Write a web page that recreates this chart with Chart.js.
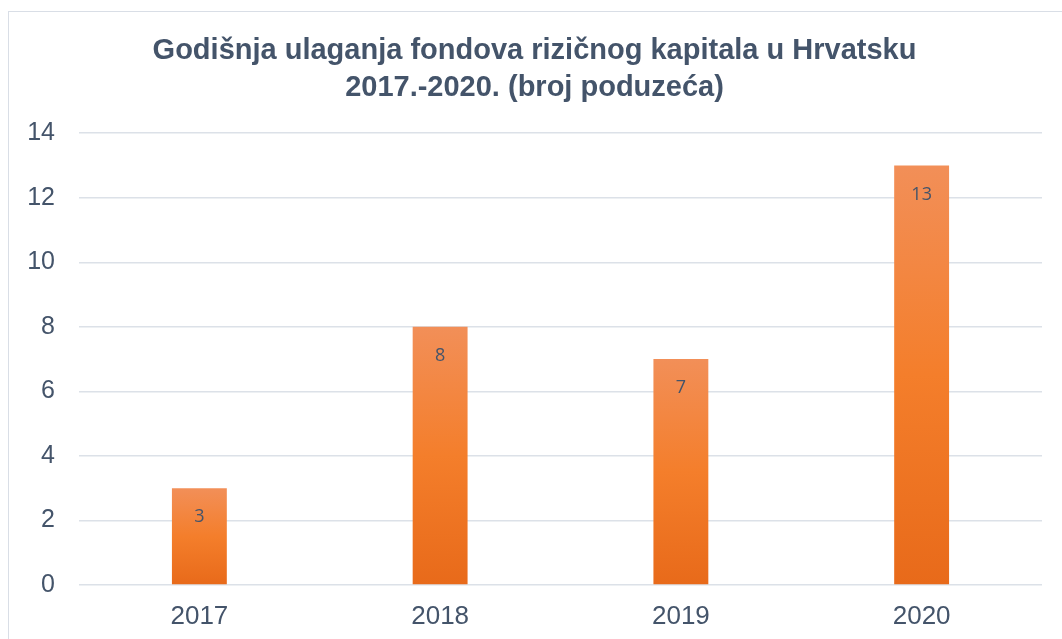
<!DOCTYPE html>
<html>
<head>
<meta charset="utf-8">
<script src="https://cdn.jsdelivr.net/npm/chart.js@4"></script>
<style>
  html, body { margin:0; padding:0; background:#fff; }
  #frame { position:absolute; left:8px; top:11px; width:1100px; height:700px; border:1px solid #D9DEE6; }
  #wrap { position:absolute; left:0; top:0; width:1062px; height:639px; }
</style>
</head>
<body>
<div id="frame"></div>
<div id="wrap"><canvas id="c" width="1062" height="639"></canvas></div>
<script>
const years  = ['2017', '2018', '2019', '2020'];
const counts = [3, 8, 7, 13];
const yTicks = [0, 2, 4, 6, 8, 10, 12, 14];

const textCol = '#44546A';
const fam = '"Liberation Sans", Arial, sans-serif';

// per-bar vertical gradient, light on top, darker at the base
function barFill(ctx) {
  const chart = ctx.chart;
  const y = chart.scales.y;
  if (!y || ctx.dataIndex == null) return '#F47F2A';
  const top = y.getPixelForValue(counts[ctx.dataIndex]);
  const base = y.getPixelForValue(0);
  if (!isFinite(top) || !isFinite(base) || top === base) return '#F47F2A';
  const g = chart.ctx.createLinearGradient(0, top, 0, base);
  g.addColorStop(0, '#F28F58');
  g.addColorStop(0.5, '#F47E2B');
  g.addColorStop(1, '#E86A1A');
  return g;
}

// simple value labels inside the top of each bar
const barLabels = {
  id: 'barLabels',
  afterDatasetsDraw(chart) {
    const c = chart.ctx;
    const meta = chart.getDatasetMeta(0);
    c.save();
    c.font = '18px "Open Sans", "Liberation Sans", sans-serif';
    c.fillStyle = textCol;
    c.textAlign = 'center';
    c.textBaseline = 'middle';
    meta.data.forEach((bar, i) => {
      c.fillText(String(counts[i]), bar.x, bar.y + 29);
    });
    c.restore();
  }
};

new Chart(document.getElementById('c'), {
  type: 'bar',
  data: {
    labels: years,
    datasets: [{
      data: counts,
      backgroundColor: barFill,
      categoryPercentage: 1,
      barPercentage: 0.228
    }]
  },
  options: {
    responsive: false,
    animation: false,
    layout: { padding: { left: 27, right: 20, top: 0, bottom: 8 } },
    plugins: {
      legend: { display: false },
      tooltip: { enabled: false },
      title: {
        display: true,
        text: ['Godišnja ulaganja fondova rizičnog kapitala u Hrvatsku', '2017.-2020. (broj poduzeća)'],
        color: textCol,
        font: { family: fam, size: 29, weight: 'bold', lineHeight: 1.28 },
        padding: { top: 32, bottom: 27 }
      }
    },
    scales: {
      x: {
        afterFit: axis => { axis.height = 46; },
        grid: { display: false },
        border: { display: false },
        ticks: { color: textCol, font: { family: fam, size: 26 }, padding: 8, maxRotation: 0 }
      },
      y: {
        min: 0, max: 14,
        afterFit: axis => { axis.width = 52; },
        afterBuildTicks: axis => { axis.ticks = yTicks.map(v => ({ value: v })); },
        grid: { color: '#DCE1E8', lineWidth: 1.5, drawTicks: false },
        border: { display: false },
        ticks: { color: textCol, font: { family: fam, size: 25 }, padding: 24 }
      }
    }
  },
  plugins: [barLabels]
});
</script>
</body>
</html>
